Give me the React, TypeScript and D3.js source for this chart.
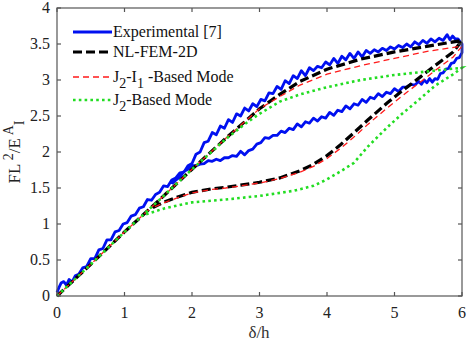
import React from 'react';
import * as d3 from 'd3';

// δ/h values and FL²/E^A I values
const expLoadX = [0, 0.03, 0.06, 0.1, 0.14, 0.18, 0.22, 0.27, 0.32, 0.38, 0.44, 0.5, 0.56, 0.62, 0.68, 0.74, 0.8, 0.86, 0.92, 0.98, 1.04, 1.1, 1.16, 1.22, 1.28, 1.34, 1.4, 1.46, 1.52, 1.58, 1.64, 1.7, 1.76, 1.82, 1.88, 1.94, 2.0, 2.06, 2.12, 2.18, 2.24, 2.3, 2.36, 2.42, 2.48, 2.54, 2.6, 2.66, 2.72, 2.78, 2.84, 2.9, 2.96, 3.02, 3.08, 3.14, 3.2, 3.26, 3.32, 3.38, 3.44, 3.5, 3.56, 3.62, 3.68, 3.74, 3.8, 3.86, 3.92, 3.98, 4.04, 4.1, 4.16, 4.22, 4.28, 4.34, 4.4, 4.46, 4.52, 4.58, 4.64, 4.7, 4.76, 4.82, 4.88, 4.94, 5.0, 5.06, 5.12, 5.18, 5.24, 5.3, 5.36, 5.42, 5.48, 5.54, 5.6, 5.66, 5.72, 5.78, 5.82, 5.86, 5.9, 5.94, 5.98, 6.0];
const expLoadY = [0.05, 0.12, 0.18, 0.2, 0.15, 0.23, 0.19, 0.28, 0.3, 0.39, 0.41, 0.52, 0.52, 0.64, 0.66, 0.78, 0.78, 0.89, 0.91, 1.0, 1.02, 1.11, 1.13, 1.22, 1.24, 1.34, 1.33, 1.41, 1.44, 1.53, 1.52, 1.61, 1.64, 1.71, 1.72, 1.81, 1.84, 1.97, 2.0, 2.13, 2.15, 2.27, 2.24, 2.36, 2.33, 2.45, 2.41, 2.53, 2.5, 2.61, 2.57, 2.67, 2.63, 2.73, 2.71, 2.82, 2.81, 2.91, 2.87, 2.99, 2.95, 3.06, 3.02, 3.13, 3.06, 3.17, 3.13, 3.19, 3.17, 3.25, 3.21, 3.3, 3.23, 3.33, 3.28, 3.37, 3.3, 3.39, 3.32, 3.41, 3.37, 3.42, 3.39, 3.44, 3.41, 3.46, 3.43, 3.48, 3.45, 3.5, 3.46, 3.53, 3.49, 3.55, 3.51, 3.57, 3.53, 3.58, 3.55, 3.63, 3.56, 3.61, 3.57, 3.57, 3.52, 3.5];
const expUnloadX = [6.0, 5.96, 5.92, 5.88, 5.84, 5.8, 5.76, 5.72, 5.68, 5.64, 5.6, 5.56, 5.52, 5.48, 5.44, 5.4, 5.36, 5.3, 5.24, 5.18, 5.12, 5.06, 5.0, 4.94, 4.88, 4.82, 4.76, 4.7, 4.64, 4.58, 4.52, 4.46, 4.4, 4.34, 4.28, 4.22, 4.16, 4.1, 4.04, 3.98, 3.92, 3.86, 3.8, 3.74, 3.68, 3.62, 3.56, 3.5, 3.44, 3.38, 3.32, 3.26, 3.2, 3.14, 3.08, 3.02, 2.96, 2.9, 2.84, 2.78, 2.72, 2.66, 2.6, 2.54, 2.48, 2.42, 2.36, 2.3, 2.24, 2.18, 2.12, 2.06, 2.0, 1.94, 1.88, 1.82, 1.76, 1.7];
const expUnloadY = [3.38, 3.31, 3.3, 3.24, 3.23, 3.16, 3.15, 3.1, 3.09, 3.01, 3.02, 2.97, 3.02, 2.96, 3.0, 2.94, 2.98, 2.93, 2.94, 2.9, 2.9, 2.84, 2.88, 2.81, 2.83, 2.77, 2.81, 2.74, 2.76, 2.69, 2.73, 2.65, 2.67, 2.6, 2.64, 2.56, 2.58, 2.51, 2.55, 2.47, 2.49, 2.43, 2.47, 2.4, 2.42, 2.35, 2.39, 2.31, 2.33, 2.27, 2.29, 2.23, 2.23, 2.19, 2.2, 2.13, 2.11, 2.04, 2.02, 1.96, 2.01, 1.94, 1.95, 1.92, 1.92, 1.88, 1.9, 1.87, 1.88, 1.84, 1.83, 1.81, 1.81, 1.76, 1.73, 1.65, 1.61, 1.56];

const femX = [0, 0.5, 1, 1.5, 2, 2.5, 3, 3.3, 3.6, 4, 4.5, 5, 5.5, 6, 5.87, 5.6, 5.38, 5.1, 4.89, 4.6, 4.39, 4.2, 4, 3.8, 3.6, 3.3, 3, 2.8, 2.5, 2.3, 2, 1.8, 1.6, 1.4];
const femY = [0, 0.44, 0.89, 1.32, 1.76, 2.19, 2.6, 2.8, 2.98, 3.15, 3.29, 3.39, 3.47, 3.55, 3.39, 3.2, 3.04, 2.84, 2.68, 2.44, 2.26, 2.1, 1.95, 1.83, 1.74, 1.64, 1.58, 1.55, 1.51, 1.49, 1.44, 1.38, 1.31, 1.22];
const j2i1X = [0, 0.5, 1, 1.5, 2, 2.5, 3, 3.3, 3.6, 4, 4.5, 5, 5.5, 6, 5.87, 5.6, 5.38, 5.1, 4.89, 4.6, 4.39, 4.2, 4, 3.8, 3.6, 3.3, 3, 2.8, 2.5, 2.3, 2, 1.8, 1.6, 1.4];
const j2i1Y = [0, 0.44, 0.89, 1.32, 1.76, 2.19, 2.6, 2.77, 2.93, 3.08, 3.2, 3.3, 3.4, 3.47, 3.32, 3.13, 2.97, 2.77, 2.61, 2.38, 2.2, 2.05, 1.91, 1.8, 1.72, 1.63, 1.57, 1.54, 1.5, 1.48, 1.43, 1.37, 1.3, 1.22];
const j2X = [0, 0.5, 1, 1.5, 2, 2.3, 2.5, 2.8, 3, 3.3, 3.6, 4, 4.5, 5, 5.5, 6, 5.87, 5.6, 5.38, 5.1, 4.89, 4.6, 4.4, 4.2, 4, 3.8, 3.5, 3, 2.5, 2, 1.6, 1.3];
const j2Y = [0, 0.44, 0.89, 1.32, 1.76, 2.01, 2.18, 2.4, 2.53, 2.7, 2.8, 2.9, 3.0, 3.07, 3.12, 3.17, 3.08, 2.92, 2.74, 2.52, 2.34, 2.07, 1.85, 1.73, 1.62, 1.53, 1.46, 1.39, 1.34, 1.3, 1.22, 1.13];

const xTicks = [0, 1, 2, 3, 4, 5, 6];
const yTicks = [0, 0.5, 1, 1.5, 2, 2.5, 3, 3.5, 4];

const FONT = 'Liberation Serif';
const BLUE = '#0010f0';
const RED = '#ff1a1a';
const GREEN = '#22dd22';
const AXIS = '#555';

const x = d3.scaleLinear().domain([0, 6]).range([57, 462]);
const y = d3.scaleLinear().domain([0, 4]).range([296, 8]);
const line = d3.line<[number, number]>().x(d => x(d[0])).y(d => y(d[1]));
const pts = (xs: number[], ys: number[]) => xs.map((v, i) => [v, ys[i]] as [number, number]);

const App = () => {
    const expPath = line(pts(expLoadX, expLoadY).concat(pts(expUnloadX, expUnloadY))) || '';
    const lx0 = 73, lx1 = 112;

    return (
        <svg width={467} height={342} fontFamily={FONT}
             style={{ position: 'absolute', left: 0, top: 0, background: '#fff' }}>
            {/* curves */}
            <path d={expPath} fill="none" stroke={BLUE} strokeWidth={2.8} strokeLinejoin="round" />
            <path d={line(pts(femX, femY)) || ''} fill="none" stroke="#000" strokeWidth={3.2} strokeDasharray="9,4" />
            <path d={line(pts(j2i1X, j2i1Y)) || ''} fill="none" stroke={RED} strokeWidth={1.3} strokeDasharray="6,4" />
            <path d={line(pts(j2X, j2Y)) || ''} fill="none" stroke={GREEN} strokeWidth={2.6} strokeDasharray="2.6,3.2" />

            {/* box + inward ticks */}
            <rect x={57} y={8} width={405} height={288} fill="none" stroke={AXIS} strokeWidth={1.2} />
            <g stroke={AXIS} strokeWidth={1.2}>
                {xTicks.map(t => (
                    <g key={'x' + t}>
                        <line x1={x(t)} x2={x(t)} y1={296} y2={292} />
                        <line x1={x(t)} x2={x(t)} y1={8} y2={12} />
                    </g>
                ))}
                {yTicks.map(t => (
                    <g key={'y' + t}>
                        <line x1={57} x2={61} y1={y(t)} y2={y(t)} />
                        <line x1={462} x2={458} y1={y(t)} y2={y(t)} />
                    </g>
                ))}
            </g>

            {/* tick labels */}
            {xTicks.map(t => (
                <text key={'xl' + t} x={x(t)} y={318} textAnchor="middle" fontSize={16} fill="#222">{t}</text>
            ))}
            {yTicks.map(t => (
                <text key={'yl' + t} x={50} y={y(t) + 5} textAnchor="end" fontSize={16} fill="#222">{t}</text>
            ))}

            {/* axis titles */}
            <text x={259} y={338} textAnchor="middle" fontSize={17} fill="#333">δ/h</text>
            <text transform="translate(20,152) rotate(-90)" textAnchor="middle" fontSize={17} fill="#222">
                <tspan>FL</tspan>
                <tspan dy={-7} fontSize={14}> 2</tspan>
                <tspan dy={7}>/E</tspan>
                <tspan dy={-7} fontSize={14}> A</tspan>
                <tspan dy={11} fontSize={14}>I</tspan>
            </text>

            {/* legend */}
            <g fontSize={16} fill="#111">
                <line x1={lx0} x2={lx1} y1={32} y2={32} stroke={BLUE} strokeWidth={2.8} />
                <text x={113} y={37}>Experimental [7]</text>

                <line x1={lx0} x2={lx1} y1={52} y2={52} stroke="#000" strokeWidth={3.2} strokeDasharray="9,4" />
                <text x={113} y={57}>NL-FEM-2D</text>

                <line x1={lx0} x2={lx1} y1={77} y2={77} stroke={RED} strokeWidth={1.3} strokeDasharray="6,4" />
                <text x={113} y={82}>
                    <tspan>J</tspan>
                    <tspan dy={6} fontSize={14}>2</tspan>
                    <tspan dy={-6}>-I</tspan>
                    <tspan dy={6} fontSize={14}>1</tspan>
                    <tspan dy={-6}> -Based Mode</tspan>
                </text>

                <line x1={lx0} x2={lx1} y1={100} y2={100} stroke={GREEN} strokeWidth={2.6} strokeDasharray="2.6,3.2" />
                <text x={113} y={105}>
                    <tspan>J</tspan>
                    <tspan dy={6} fontSize={14}>2</tspan>
                    <tspan dy={-6}>-Based Mode</tspan>
                </text>
            </g>
        </svg>
    );
};

export default App;
